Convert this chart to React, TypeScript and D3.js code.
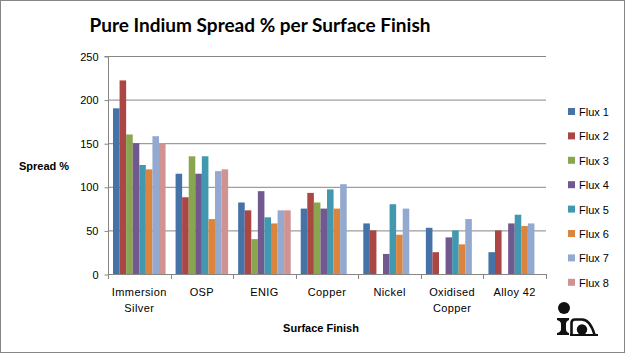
import React, { useEffect, useRef } from 'react';
import * as d3 from 'd3';

const categories = ['Immersion Silver', 'OSP', 'ENIG', 'Copper', 'Nickel', 'Oxidised Copper', 'Alloy 42'];
const categoryLines = [['Immersion', 'Silver'], ['OSP'], ['ENIG'], ['Copper'], ['Nickel'], ['Oxidised', 'Copper'], ['Alloy 42']];
const seriesNames = ['Flux 1', 'Flux 2', 'Flux 3', 'Flux 4', 'Flux 5', 'Flux 6', 'Flux 7', 'Flux 8'];
const seriesColors = ['#4572a7', '#aa4643', '#89a54e', '#71588f', '#4198af', '#db843d', '#93a9cf', '#d19392'];

// one array per flux, values per surface finish (null = no bar)
const flux1 = [190, 115, 82, 75, 58, 53, 25];
const flux2 = [222, 88, 73, 93, 50, 25, 50];
const flux3 = [160, 135, 40, 82, null, null, null];
const flux4 = [150, 115, 95, 75, 23, 42, 58];
const flux5 = [125, 135, 65, 97, 80, 50, 68];
const flux6 = [120, 63, 58, 75, 45, 34, 55];
const flux7 = [158, 118, 73, 103, 75, 63, 58];
const flux8 = [150, 120, 73, null, null, null, null];
const seriesValues = [flux1, flux2, flux3, flux4, flux5, flux6, flux7, flux8];
const yTicks = [0, 50, 100, 150, 200, 250];

const W = 625;
const H = 353;
const plot = { left: 108, right: 546, top: 56, bottom: 274 };

export default function App() {
  const ref = useRef<SVGSVGElement>(null);

  useEffect(() => {
    const svg = d3.select(ref.current);
    svg.selectAll('*').remove();

    svg.append('rect')
      .attr('x', 0.5).attr('y', 0.5)
      .attr('width', W - 1).attr('height', H - 1)
      .attr('fill', '#fff').attr('stroke', '#868686');

    const y = d3.scaleLinear().domain([0, 250]).range([plot.bottom, plot.top]);
    const x0 = d3.scaleBand().domain(categories).range([plot.left, plot.right]).paddingInner(0.16).paddingOuter(0.08);
    const x1 = d3.scaleBand().domain(seriesNames).range([0, x0.bandwidth()]);

    // gridlines
    svg.append('g').selectAll('line')
      .data(yTicks.filter(t => t > 0))
      .enter().append('line')
      .attr('x1', plot.left).attr('x2', plot.right)
      .attr('y1', d => y(d) + 0.5).attr('y2', d => y(d) + 0.5)
      .attr('stroke', '#868686').attr('stroke-width', 1);

    // bars
    const groups = svg.append('g').selectAll('g')
      .data(categories)
      .enter().append('g')
      .attr('transform', d => `translate(${x0(d)},0)`);

    groups.selectAll('rect')
      .data((c, ci) => seriesNames.map((s, si) => ({ s, si, v: seriesValues[si][ci] })).filter(d => d.v != null))
      .enter().append('rect')
      .attr('x', d => x1(d.s)!)
      .attr('width', x1.bandwidth())
      .attr('y', d => y(d.v as number))
      .attr('height', d => plot.bottom - y(d.v as number))
      .attr('fill', d => seriesColors[d.si]);

    // y axis
    const yAxis = d3.axisLeft(y).tickValues(yTicks).tickSize(4).tickPadding(6);
    const ya = svg.append('g').attr('transform', `translate(${plot.left + 0.5},0.5)`).call(yAxis);
    ya.select('.domain').attr('stroke', '#868686').attr('d', `M-4,${plot.top}H0V${plot.bottom}`);
    ya.selectAll('line').attr('stroke', '#868686');
    ya.selectAll('text').attr('font-family', 'Liberation Sans, Arial').attr('font-size', 11).attr('fill', '#000');

    // x axis line + ticks between categories
    const xa = svg.append('g');
    xa.append('line')
      .attr('x1', plot.left).attr('x2', plot.right)
      .attr('y1', plot.bottom + 0.5).attr('y2', plot.bottom + 0.5)
      .attr('stroke', '#868686');
    const bounds = d3.range(categories.length + 1).map(i => plot.left + i * (plot.right - plot.left) / categories.length);
    xa.selectAll('line.tick')
      .data(bounds)
      .enter().append('line')
      .attr('class', 'tick')
      .attr('x1', d => Math.round(d) + 0.5).attr('x2', d => Math.round(d) + 0.5)
      .attr('y1', plot.bottom).attr('y2', plot.bottom + 5)
      .attr('stroke', '#868686');

    const labels = xa.selectAll('text.cat')
      .data(categories)
      .enter().append('text')
      .attr('class', 'cat')
      .attr('text-anchor', 'middle')
      .attr('font-family', 'Liberation Sans, Arial')
      .attr('font-size', 11)
      .attr('letter-spacing', 0.4)
      .attr('x', d => x0(d)! + x0.bandwidth() / 2)
      .attr('y', 296);
    labels.each(function (d, i) {
      const t = d3.select(this);
      categoryLines[i].forEach((line, li) => {
        t.append('tspan').attr('x', x0(d)! + x0.bandwidth() / 2).attr('dy', li === 0 ? 0 : 16).text(line);
      });
    });

    // titles
    svg.append('text')
      .attr('x', 260).attr('y', 32)
      .attr('text-anchor', 'middle')
      .attr('font-family', 'Lato, sans-serif')
      .attr('font-weight', 'bold')
      .attr('font-size', 19)
      .text('Pure Indium Spread % per Surface Finish');

    svg.append('text')
      .attr('x', 44).attr('y', 170)
      .attr('text-anchor', 'middle')
      .attr('font-family', 'Liberation Sans, Arial')
      .attr('font-weight', 'bold')
      .attr('font-size', 11)
      .text('Spread %');

    svg.append('text')
      .attr('x', 321).attr('y', 332)
      .attr('text-anchor', 'middle')
      .attr('font-family', 'Liberation Sans, Arial')
      .attr('font-weight', 'bold')
      .attr('font-size', 11)
      .text('Surface Finish');

    // legend
    const legend = svg.append('g').selectAll('g')
      .data(seriesNames)
      .enter().append('g')
      .attr('transform', (d, i) => `translate(568,${112 + i * 24.4})`);
    legend.append('rect')
      .attr('x', 0).attr('y', -4)
      .attr('width', 7).attr('height', 7)
      .attr('fill', (d, i) => seriesColors[i]);
    legend.append('text')
      .attr('x', 11).attr('y', 4)
      .attr('font-family', 'Liberation Sans, Arial')
      .attr('font-size', 11)
      .text(d => d);

    // logo
    const logo = svg.append('g');
    logo.append('circle').attr('cx', 564).attr('cy', 308).attr('r', 6).attr('fill', '#111');
    logo.append('path')
      .attr('fill', '#111')
      .attr('d', 'M557,318 H569 V320 Q566,321 566,324 V329 Q566,332 569,333 V335 H557 V333 Q561,332 561,329 V324 Q561,321 557,320 Z');
    logo.append('path')
      .attr('fill', 'none').attr('stroke', '#111').attr('stroke-width', 2.6)
      .attr('d', 'M571.5,335 V323 Q571.5,319.5 575,319.5 H582 Q590,319.5 594.5,334.5');
    logo.append('circle').attr('cx', 582).attr('cy', 329.5).attr('r', 5.2).attr('fill', '#111');
    logo.append('rect').attr('x', 570).attr('y', 334).attr('width', 28).attr('height', 2).attr('fill', '#111');
  }, []);

  return (
    <svg ref={ref} width={W} height={H} style={{ position: 'absolute', left: 0, top: 0 }} />
  );
}
